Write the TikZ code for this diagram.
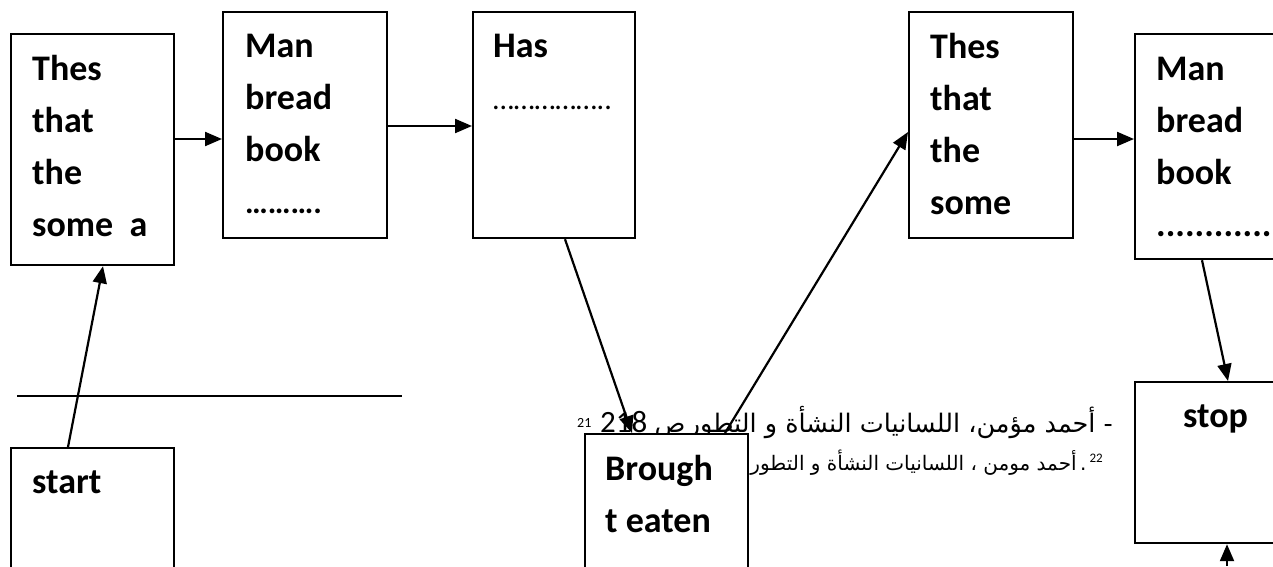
\documentclass[tikz,border=0pt]{standalone}
\usepackage{fontspec}
\setmainfont{Carlito}
\newfontfamily\arabicfont[Script=Arabic]{DejaVu Sans}
\TeXXeTstate=1
\usetikzlibrary{arrows.meta}
\begin{document}
\begin{tikzpicture}[x=1pt,y=-1pt,
  box/.style={draw, line width=2.2pt, fill=white, inner sep=0pt, anchor=north west},
  lbl/.style={font=\fontsize{36}{52}\selectfont\bfseries, inner sep=0pt, anchor=base west},
  link/.style={line width=2.2pt, -{Triangle[length=17pt,width=14pt]}},
  rule/.style={line width=1.8pt},
  fnbig/.style={inner sep=0pt, font=\arabicfont\fontsize{25.5}{30}\selectfont},
  fnsmall/.style={inner sep=0pt, font=\arabicfont\fontsize{20}{24}\selectfont},
  fnnum/.style={inner sep=0pt, font=\fontsize{31}{36}\selectfont},
  fnsup/.style={inner sep=0pt, font=\fontsize{14}{16}\selectfont}]
\useasboundingbox (0,0) rectangle (1273,566);
\clip (0,0) rectangle (1273,566);

% footnote separator
\coordinate (s1) at (17,396);
\coordinate (s2) at (402,396);
\draw[rule] (s1) -- (s2);

% footnotes
\node[fnbig, anchor=base east] (fn1) at (1113,432) {\beginR - أحمد مؤمن، اللسانيات النشأة و التطور\endR};
\node[fnbig, anchor=base] (fn1p) at (670,432) {\beginR ص\endR};
\node[fnnum, anchor=base west] (fn1n) at (600,432) {218};
\node[fnsup, anchor=base west] (fn1s) at (577,427) {21};
\node[fnsmall, anchor=base east] (fn2) at (1103,470) {{\beginR أحمد مومن ، اللسانيات النشأة و التطور ،\endR}\,.\,\raisebox{8pt}{\fontspec{Carlito}\fontsize{13}{15}\selectfont 22}};

% boxes
\node[box, minimum width=163pt, minimum height=231pt] (A) at (10,33) {};
\node[box, minimum width=164pt, minimum height=226pt] (B) at (222,11) {};
\node[box, minimum width=162pt, minimum height=226pt] (C) at (472,11) {};
\node[box, minimum width=164pt, minimum height=226pt] (D) at (908,11) {};
\node[box, minimum width=200pt, minimum height=225pt] (E) at (1134,33) {};
\node[box, minimum width=163pt, minimum height=170pt] (start) at (10,447) {};
\node[box, minimum width=163pt, minimum height=170pt] (br) at (584,433) {};
\node[box, minimum width=200pt, minimum height=161pt] (stop) at (1134,381) {};

% box texts
\node[lbl] (At) at (32,80) {\parbox[t]{150pt}{Thes\\that\\the\\some\ \ a}};
\node[lbl] (Bt) at (245,57) {\parbox[t]{150pt}{Man\\bread\\book\\{\fontsize{32}{52}\selectfont ……….}}};
\node[lbl] (Ct) at (493,57) {\parbox[t]{150pt}{Has\\{\mdseries\fontsize{30}{52}\selectfont ……………..}}};
\node[lbl] (Dt) at (930,58) {\parbox[t]{150pt}{Thes\\that\\the\\some}};
\node[lbl] (Et) at (1156,80) {\parbox[t]{150pt}{Man\\bread\\book\\..............}};
\node[lbl] (st) at (32,493) {start};
\node[lbl] (brt) at (605,480) {\parbox[t]{150pt}{Brough\\t eaten}};
\node[lbl] (spt) at (1183,427) {stop};

% connectors
\coordinate (in) at (1227,566);
\draw[link] ([xshift=58pt]start.north west) -- ([xshift=93pt]A.south west);
\draw[link] ([yshift=-106pt]A.north east) -- ([yshift=-128pt]B.north west);
\draw[link] ([yshift=-115pt]B.north east) -- ([yshift=-115pt]C.north west);
\draw[link] ([xshift=93pt]C.south west) -- ([xshift=48pt]br.north west);
\draw[link] ([xshift=141pt]br.north west) -- ([yshift=-121pt]D.north west);
\draw[link] ([yshift=-128pt]D.north east) -- ([yshift=-106pt]E.north west);
\draw[link] ([xshift=68pt]E.south west) -- ([xshift=94pt]stop.north west);
\draw[link] (in) -- ([xshift=93pt]stop.south west);
\end{tikzpicture}
\end{document}
